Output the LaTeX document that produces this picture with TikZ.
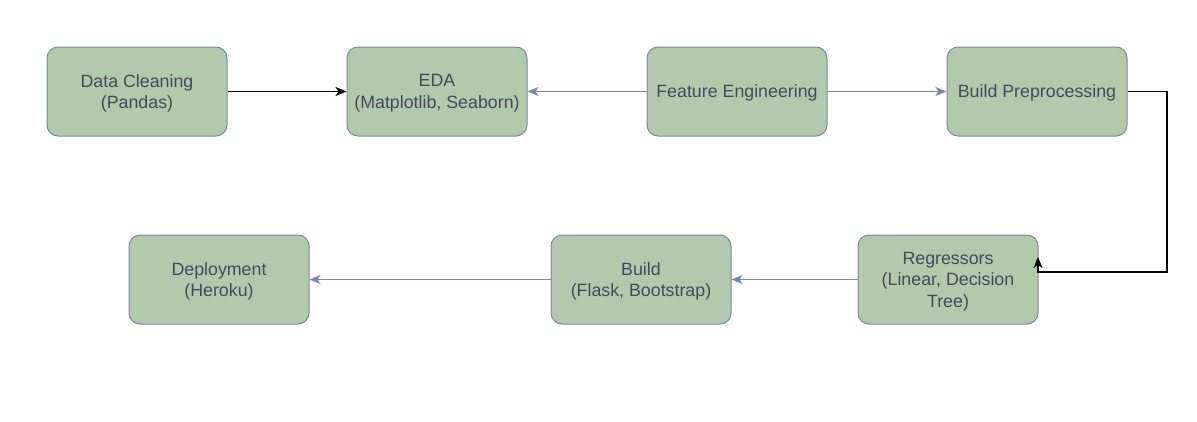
\documentclass[tikz,border=0pt]{standalone}
\usepackage{fontspec}
\setmainfont{Liberation Sans}
\usetikzlibrary{arrows.meta}
\definecolor{boxfill}{HTML}{B2C9AB}
\definecolor{boxline}{HTML}{788AA3}
\definecolor{boxtext}{HTML}{46495D}
\begin{document}
\begin{tikzpicture}[x=1pt,y=-1pt,
  stepbox/.style={draw=boxline, fill=boxfill, rounded corners=11pt, line width=1pt,
    minimum width=180pt, minimum height=89pt, text=boxtext, align=center,
    font=\fontsize{17.8}{21.5}\selectfont, inner sep=2pt, text depth=0pt},
  darrow/.style={draw=black, line width=1.2pt, -{Stealth[length=11pt,width=9pt,inset=3pt]}},
  garrow/.style={draw=boxline, line width=1pt, -{Stealth[length=11pt,width=9pt,inset=3pt]}}]
\useasboundingbox (0,0) rectangle (1197,421);
\node[stepbox] (dc) at (137,91.5) {Data Cleaning\\(Pandas)};
\node[stepbox] (eda) at (437,91.5) {EDA\\(Matplotlib, Seaborn)};
\node[stepbox] (fe) at (737,91.5) {Feature Engineering};
\node[stepbox] (bp) at (1037,91.5) {Build Preprocessing};
\node[stepbox] (dep) at (219,279.5) {Deployment\\(Heroku)};
\node[stepbox] (bld) at (641,279.5) {Build\\(Flask, Bootstrap)};
\node[stepbox] (reg) at (948,279.5) {Regressors\\(Linear, Decision\\Tree)};
\coordinate (corner) at (1038,272);
\coordinate (tip) at (1038,257);
\draw[darrow] (dc) -- (eda);
\draw[garrow] (fe) -- (eda);
\draw[garrow] (fe) -- (bp);
\draw[garrow] (reg) -- (bld);
\draw[garrow] (bld) -- (dep);
\draw[darrow] (bp.east) -- (1167,91.5) -- (1167,272) -- (corner) -- (tip);
\end{tikzpicture}
\end{document}
